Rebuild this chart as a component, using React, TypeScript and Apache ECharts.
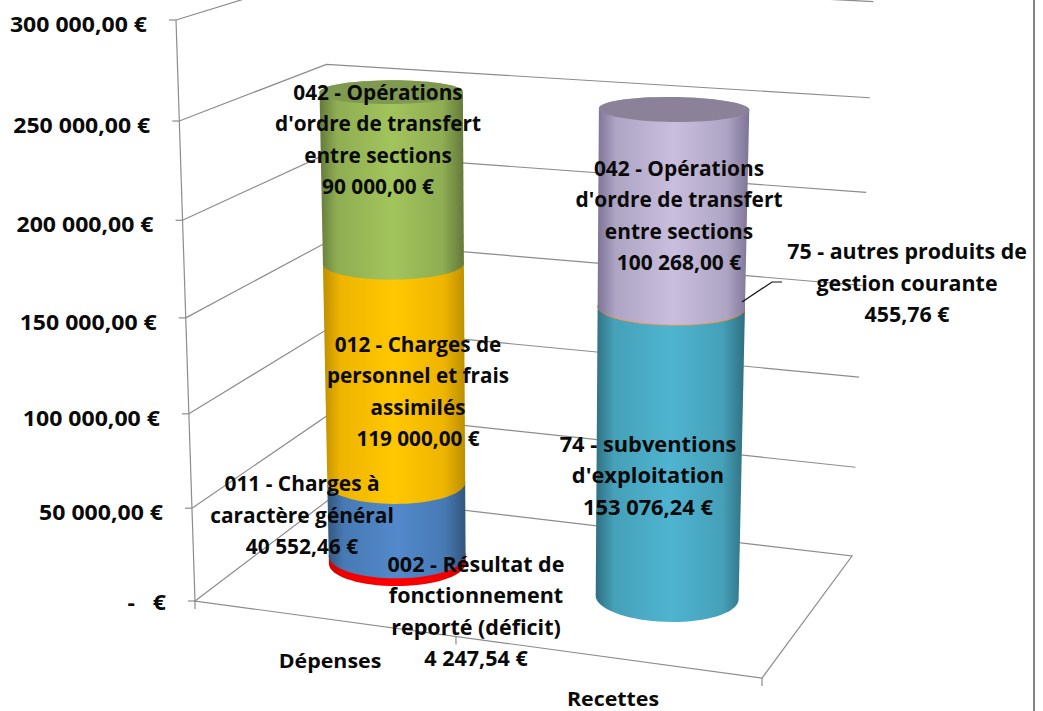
import React, { useEffect, useRef } from "react";
import * as echarts from "echarts";

const categories = ["Dépenses", "Recettes"];
const depensesNames = [
  "002 - Résultat de\nfonctionnement\nreporté (déficit)",
  "011 - Charges à\ncaractère général",
  "012 - Charges de\npersonnel et frais\nassimilés",
  "042 - Opérations\nd'ordre de transfert\nentre sections",
];
const depensesValues = [4247.54, 40552.46, 119000, 90000];
const depensesLabels = ["4 247,54 €", "40 552,46 €", "119 000,00 €", "90 000,00 €"];
const recettesNames = [
  "74 - subventions\nd'exploitation",
  "75 - autres produits de\ngestion courante",
  "042 - Opérations\nd'ordre de transfert\nentre sections",
];
const recettesValues = [153076.24, 455.76, 100268];
const recettesLabels = ["153 076,24 €", "455,76 €", "100 268,00 €"];
const tickValues = [0, 50000, 100000, 150000, 200000, 250000, 300000];
const tickLabels = ["-   €", "50 000,00 €", "100 000,00 €", "150 000,00 €", "200 000,00 €", "250 000,00 €", "300 000,00 €"];

const W = 1043, H = 711;
const FONT = "'Open Sans', 'Noto Sans', sans-serif";
const GRID = "#8c8c8c";

// ---- projective box (floor quad plus top of the front-left edge)
const O = [195, 601], B = [762, 678], C = [852, 556], D = [335, 495], TOP = [176, 20];
const cv = -0.0495;
const dx1 = B[0] - C[0], dx2 = D[0] - C[0], sx = O[0] - B[0] + C[0] - D[0];
const dy1 = B[1] - C[1], dy2 = D[1] - C[1], sy = O[1] - B[1] + C[1] - D[1];
const den = dx1 * dy2 - dx2 * dy1;
const g = (sx * dy2 - dx2 * sy) / den, h = (dx1 * sy - sx * dy1) / den;
const a = B[0] - O[0] + g * B[0], b = D[0] - O[0] + h * D[0];
const d = B[1] - O[1] + g * B[1], e = D[1] - O[1] + h * D[1];
const ax = TOP[0] * (1 + cv) - O[0], ay = TOP[1] * (1 + cv) - O[1];
function project(u: number, w: number, v0: number): number[] {
  // small correction of the pure projective fit towards the back of the box
  const v = v0 * (1 - 0.009 * w * w - 0.006 * u * w * w);
  const q = g * u + h * w + 1 + cv * v;
  return [(a * u + b * w + O[0] + ax * v) / q + 7 * u * w * v0, (d * u + e * w + O[1] + ay * v) / q];
}

function hull(pts: number[][]): number[][] {
  const s = pts.slice().sort((p, q) => p[0] - q[0] || p[1] - q[1]);
  const cross = (o: number[], p: number[], q: number[]) => (p[0] - o[0]) * (q[1] - o[1]) - (p[1] - o[1]) * (q[0] - o[0]);
  const lo: number[][] = [], up: number[][] = [];
  for (const p of s) { while (lo.length > 1 && cross(lo[lo.length - 2], lo[lo.length - 1], p) <= 0) lo.pop(); lo.push(p); }
  for (const p of s.slice().reverse()) { while (up.length > 1 && cross(up[up.length - 2], up[up.length - 1], p) <= 0) up.pop(); up.push(p); }
  return lo.slice(0, -1).concat(up.slice(0, -1));
}

const CYL = [{ u: 0.254, w: 0.49 }, { u: 0.7525, w: 0.49 }];
const RU = 0.122, RW = 0.195;
function ring(cat: number, v: number): number[][] {
  const out: number[][] = [];
  for (let i = 0; i < 72; i++) {
    const t = (i / 72) * Math.PI * 2;
    out.push(project(CYL[cat].u + RU * Math.cos(t), CYL[cat].w + RW * Math.sin(t), v));
  }
  return out;
}

function sideFill(edge: string, mid: string, light: string) {
  return new echarts.graphic.LinearGradient(0, 0, 1, 0, [
    { offset: 0, color: edge },
    { offset: 0.12, color: mid },
    { offset: 0.5, color: light },
    { offset: 0.85, color: mid },
    { offset: 1, color: edge },
  ]);
}

const depensesColors = [
  ["#cc0000", "#f00000", "#ff0000"],
  ["#34557c", "#477ab4", "#5389cb"],
  ["#bd8f00", "#eeb400", "#ffc800"],
  ["#64793a", "#8fad52", "#a2c45c"],
];
const recettesColors = [
  ["#2f6f80", "#45a0b8", "#4fb4d0"],
  ["#c97a30", "#f79646", "#f79646"],
  ["#7d7496", "#aea4c4", "#c9bedd"],
];
const capColors = ["#7f9a50", "#8b8299"];

// rows: [category, start, end, paletteIndex, isTop]
function rows(vals: number[], cat: number) {
  let acc = 0;
  return vals.map((val, i) => {
    const r = [cat, acc, acc + val, i, i === vals.length - 1 ? 1 : 0];
    acc += val;
    return r;
  });
}
const cylinderRows = [...rows(depensesValues, 0), ...rows(recettesValues, 1)];

// label centres in screen space (layout only)
const labelLayout = [
  { t: depensesNames[0] + "\n" + depensesLabels[0], x: 476, y: 611, sx: 1.05 },
  { t: depensesNames[1] + "\n" + depensesLabels[1], x: 302, y: 515, sx: 1.02 },
  { t: depensesNames[2] + "\n" + depensesLabels[2], x: 418, y: 391, sx: 1.01 },
  { t: depensesNames[3] + "\n" + depensesLabels[3], x: 378, y: 139, sx: 1.015 },
  { t: recettesNames[0] + "\n" + recettesLabels[0], x: 648, y: 475, sx: 1.065 },
  { t: recettesNames[1] + "\n" + recettesLabels[1], x: 907, y: 283, sx: 1.045 },
  { t: recettesNames[2] + "\n" + recettesLabels[2], x: 679, y: 215, sx: 1.02 },
];
const catLabelLayout = [{ x: 330, y: 660 }, { x: 613, y: 698 }];

export default function App() {
  const ref = useRef<HTMLDivElement>(null);
  useEffect(() => {
    const chart = echarts.init(ref.current!, null, { renderer: "svg" });
    const norm = (api: any, val: number, params: any) => {
      const cs = params.coordSys;
      return (cs.y + cs.height - api.coord([0, val])[1]) / cs.height;
    };
    const wall = {
      type: "custom", xAxisIndex: 0, yAxisIndex: 0, silent: true, z: 1, clip: false,
      data: tickValues.map((t, i) => [0, t, i]),
      renderItem: (params: any, api: any) => {
        const val = api.value(1) as number;
        const v = norm(api, val, params);
        const p0 = project(0, 0, v), p1 = project(0, 1, v), p2 = project(1, 1, v);
        const line = { stroke: GRID, lineWidth: 1.2, fill: "none" };
        const kids: any[] = [
          { type: "line", shape: { x1: p0[0] - 7, y1: p0[1], x2: p0[0], y2: p0[1] }, style: line },
          {
            type: "text", x: p0[0] - 29, y: p0[1] + (val === 0 ? 1 : 4), scaleX: 1.124,
            style: { text: tickLabels[api.value(2) as number], font: `bold 20.5px ${FONT}`, fill: "#0a0a0a", align: "right", verticalAlign: "middle" },
          },
        ];
        if (val > 0) kids.push({ type: "polyline", shape: { points: [p0, p1, p2] }, style: line });
        else {
          const p3 = project(1, 0, 0);
          const m = project(0.48, 0, 0);
          kids.push({ type: "polygon", shape: { points: [p0, p1, p2, p3] }, style: line });
          [p0, m, p3].forEach((p) => kids.push({ type: "line", shape: { x1: p[0], y1: p[1], x2: p[0], y2: p[1] + 8 }, style: line }));
          const t = project(0, 0, 1);
          kids.push({ type: "line", shape: { x1: p0[0], y1: p0[1], x2: t[0], y2: t[1] }, style: line });
        }
        return { type: "group", children: kids };
      },
    };
    const cylinders = {
      type: "custom", xAxisIndex: 0, yAxisIndex: 0, silent: true, z: 2, clip: false,
      data: cylinderRows,
      renderItem: (params: any, api: any) => {
        const cat = api.value(0) as number, idx = api.value(3) as number, isTop = api.value(4) as number;
        const lo = ring(cat, norm(api, api.value(1) as number, params));
        const up = ring(cat, norm(api, api.value(2) as number, params));
        const pal = (cat === 0 ? depensesColors : recettesColors)[idx];
        const kids: any[] = [{ type: "polygon", shape: { points: hull(lo.concat(up)) }, style: { fill: sideFill(pal[0], pal[1], pal[2]) } }];
        if (isTop) kids.push({ type: "polygon", shape: { points: up }, style: { fill: capColors[cat] } });
        return { type: "group", children: kids };
      },
    };
    const option = {
      animation: false,
      backgroundColor: "#ffffff",
      grid: { left: 0, right: 0, top: 0, bottom: 0 },
      xAxis: { type: "category", data: categories, show: false },
      yAxis: { type: "value", min: 0, max: 300000, interval: 50000, show: false },
      series: [wall, cylinders],
      graphic: [
        { type: "line", shape: { x1: 1034, y1: 0, x2: 1034, y2: H }, style: { stroke: "#858585", lineWidth: 2 }, z: 5 },
        { type: "polyline", shape: { points: [[742, 302], [772, 282], [782, 282]] }, style: { stroke: "#111", lineWidth: 1.2, fill: "none" }, z: 5 },
        ...labelLayout.map((l) => ({
          type: "text", x: l.x, y: l.y, z: 10, scaleX: l.sx,
          style: { text: l.t, font: `bold 20.5px ${FONT}`, lineHeight: 31.5, fill: "#0a0a0a", align: "center", verticalAlign: "middle" },
        })),
        ...catLabelLayout.map((l, i) => ({
          type: "text", x: l.x, y: l.y, z: 10, scaleX: 1.07,
          style: { text: categories[i], font: `bold 20px ${FONT}`, fill: "#0a0a0a", align: "center", verticalAlign: "middle" },
        })),
      ],
    };
    chart.setOption(option as any);
    return () => chart.dispose();
  }, []);
  return <div ref={ref} style={{ position: "fixed", left: 0, top: 0, width: W, height: H }} />;
}
